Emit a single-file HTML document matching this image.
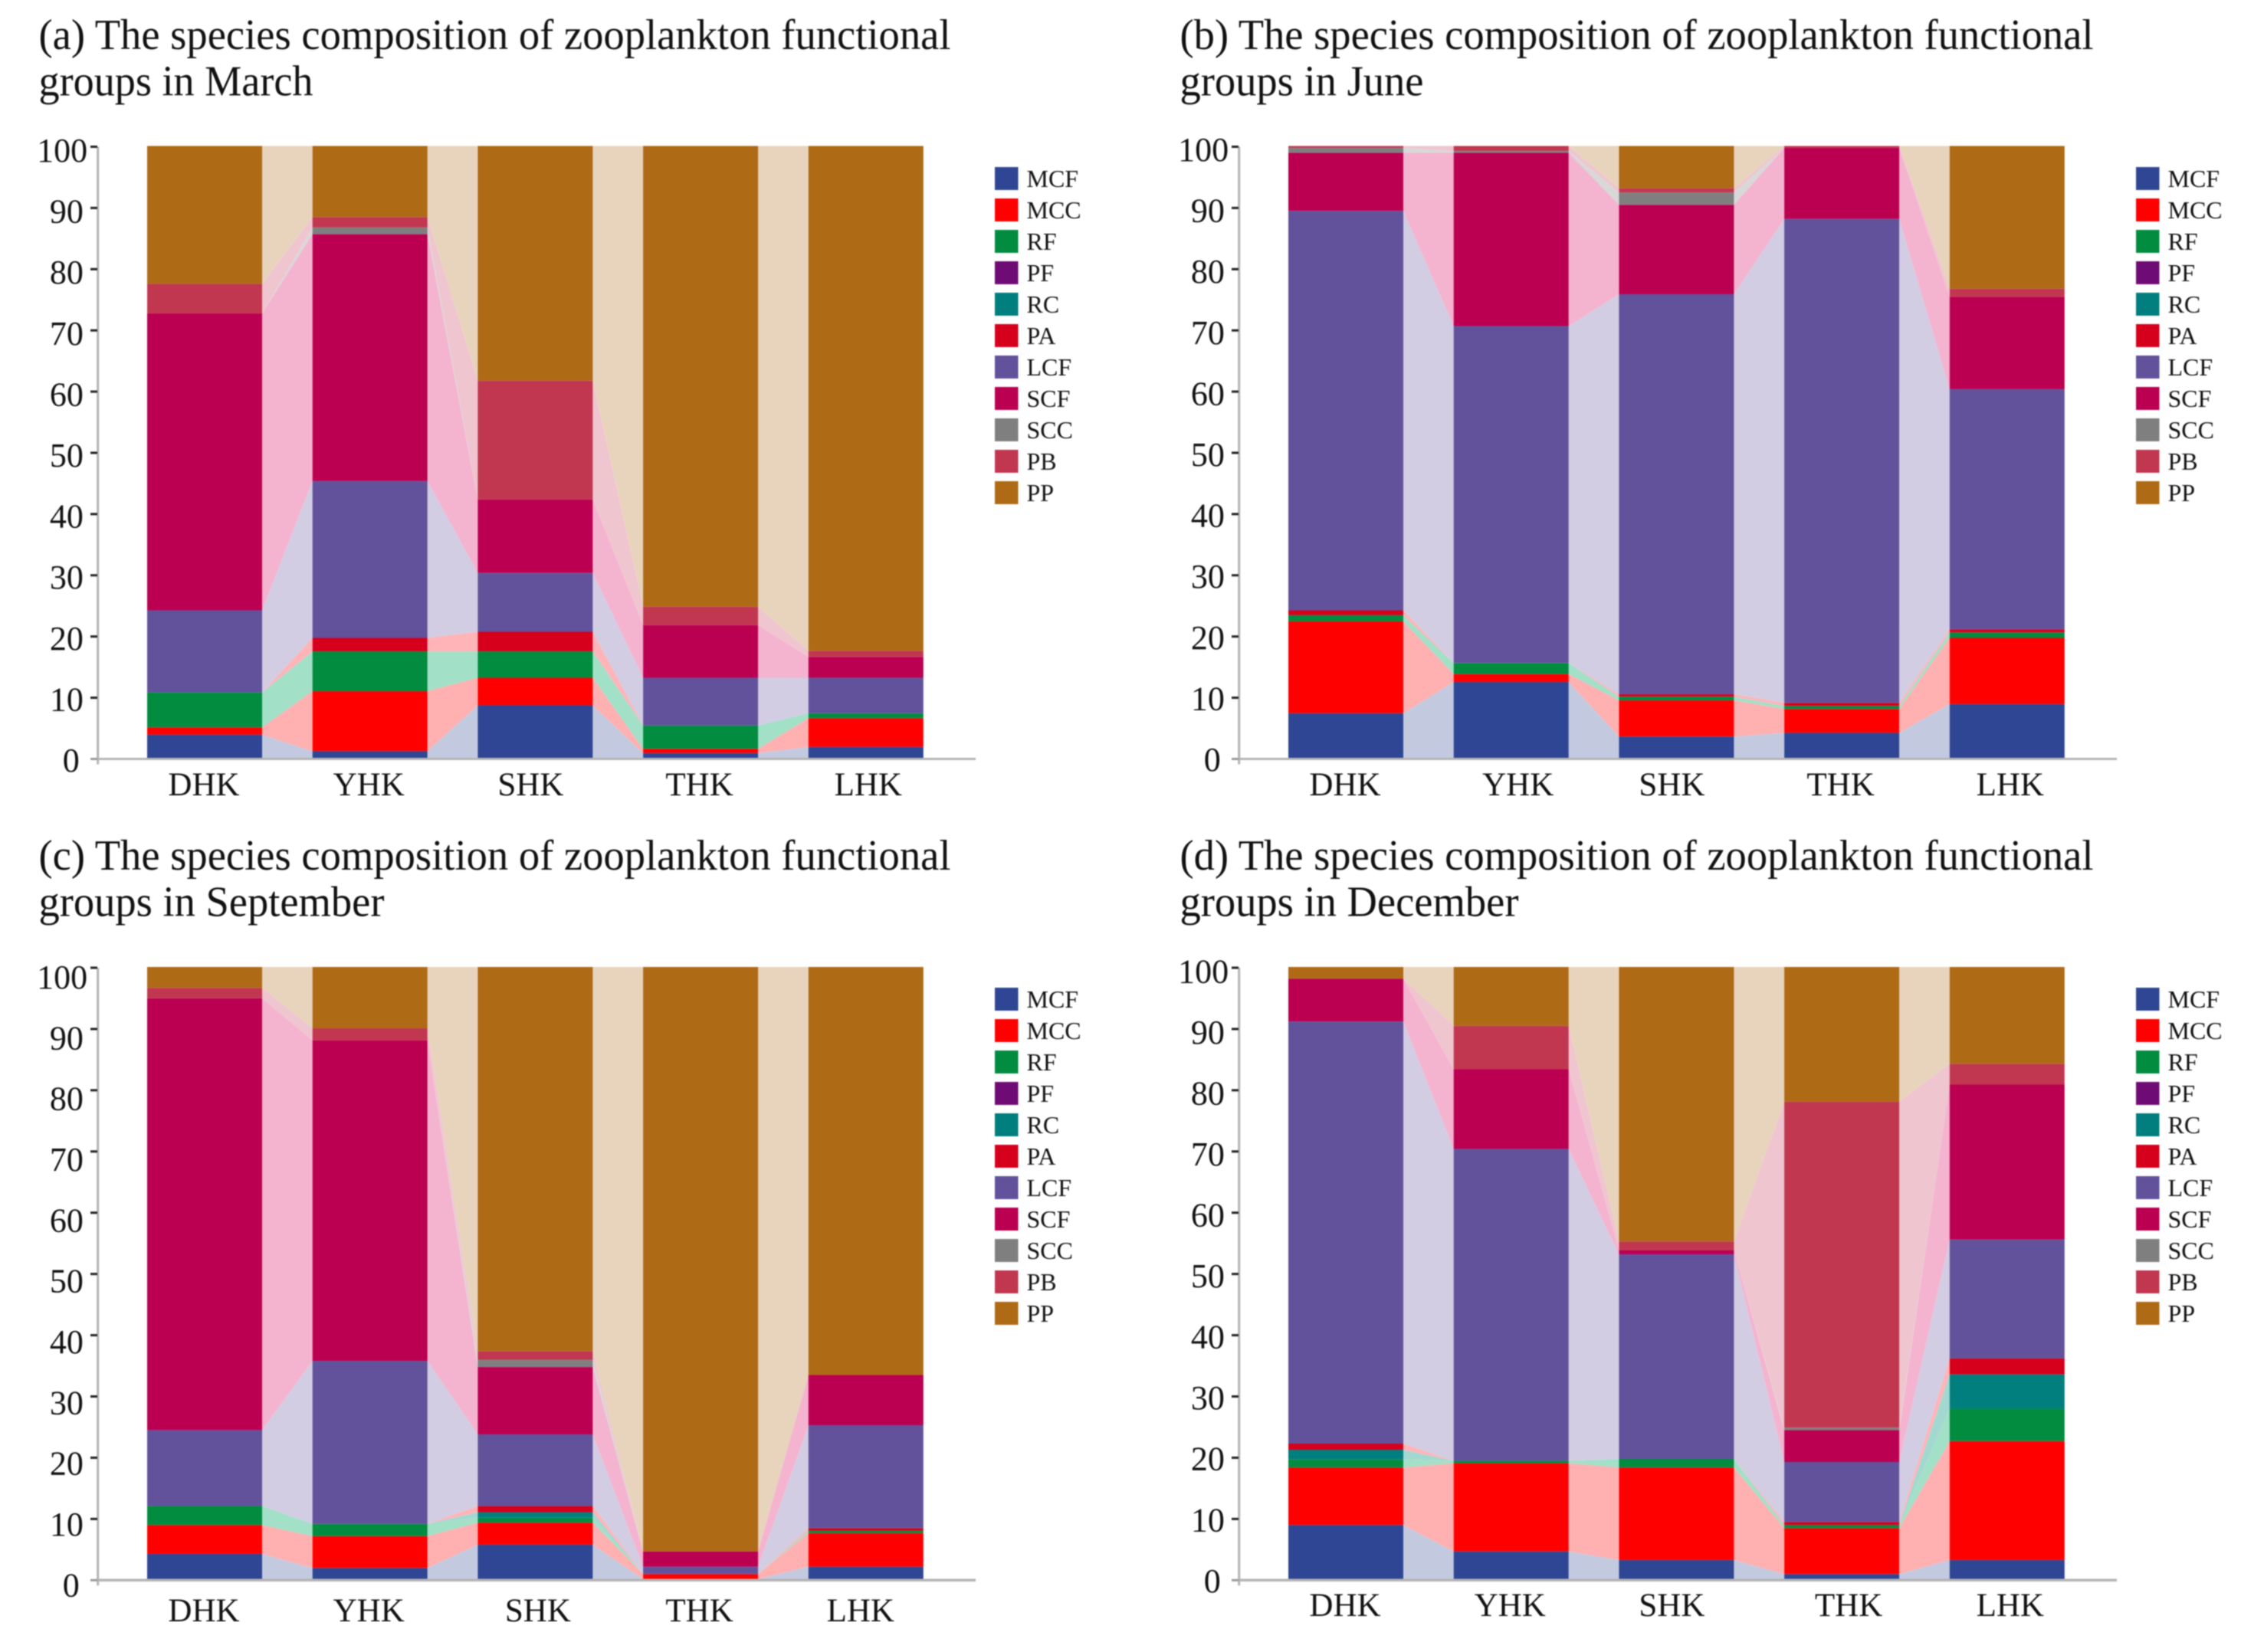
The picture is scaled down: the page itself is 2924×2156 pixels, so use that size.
<!DOCTYPE html>
<html lang="en">
<head>
<meta charset="utf-8">
<title>Species composition of zooplankton functional groups</title>
<style>
  html, body { margin: 0; padding: 0; background: #fff; width: 2924px; height: 2156px; overflow: hidden; }
  svg { display: block; filter: blur(0.8px); font-family: "Liberation Serif", serif; fill: #111; }
  .title { font-size: 56px; }
</style>
</head>
<body>
<svg id="figure" xmlns="http://www.w3.org/2000/svg" width="2924" height="2156" viewBox="0 0 2924 2156">
  <rect width="2924" height="2156" fill="#fff"/>
  <g id="panel-a">
    <text class="title" x="50.5" y="64" textLength="1190" lengthAdjust="spacingAndGlyphs">(a) The species composition of zooplankton functional</text>
    <text class="title" x="50.5" y="124.5" textLength="358" lengthAdjust="spacingAndGlyphs">groups in March</text>
  </g>
  <g id="panel-b">
    <text class="title" x="1539.5" y="64" textLength="1192" lengthAdjust="spacingAndGlyphs">(b) The species composition of zooplankton functional</text>
    <text class="title" x="1539.5" y="124.5" textLength="318" lengthAdjust="spacingAndGlyphs">groups in June</text>
  </g>
  <g id="panel-c">
    <text class="title" x="50.5" y="1135" textLength="1190" lengthAdjust="spacingAndGlyphs">(c) The species composition of zooplankton functional</text>
    <text class="title" x="50.5" y="1195.5" textLength="451" lengthAdjust="spacingAndGlyphs">groups in September</text>
  </g>
  <g id="panel-d">
    <text class="title" x="1539.5" y="1135" textLength="1192" lengthAdjust="spacingAndGlyphs">(d) The species composition of zooplankton functional</text>
    <text class="title" x="1539.5" y="1195.5" textLength="442" lengthAdjust="spacingAndGlyphs">groups in December</text>
  </g>
</svg>
<script>
// Shared categories, legend groups and tick labels
const sites = ['DHK', 'YHK', 'SHK', 'THK', 'LHK'];
const groups = ['MCF', 'MCC', 'RF', 'PF', 'RC', 'PA', 'LCF', 'SCF', 'SCC', 'PB', 'PP'];
const yTicks = [0, 10, 20, 30, 40, 50, 60, 70, 80, 90, 100];

// Percent of each group per site; order follows `groups`
const marchDHK = [3.9, 1.2, 5.7, 0, 0, 0, 13.4, 48.5, 0, 4.8, 22.5];
const marchYHK = [1.2, 9.8, 6.5, 0, 0, 2.2, 25.6, 40.3, 1.1, 1.7, 11.6];
const marchSHK = [8.7, 4.5, 4.3, 0, 0, 3.2, 9.6, 12, 0, 19.4, 38.3];
const marchTHK = [0.9, 0.7, 3.8, 0, 0, 0, 7.8, 8.6, 0, 3, 75.2];
const marchLHK = [1.9, 4.7, 0.8, 0, 0, 0, 5.8, 3.4, 0, 1, 82.4];

const juneDHK = [7.4, 15, 1, 0, 0, 0.8, 65.2, 9.5, 0.8, 0.3, 0];
const juneYHK = [12.5, 1.3, 1.8, 0, 0, 0, 55, 28.3, 0.3, 0.8, 0];
const juneSHK = [3.6, 5.9, 0.6, 0, 0, 0.4, 65.3, 14.6, 2, 0.7, 6.9];
const juneTHK = [4.2, 3.9, 0.5, 0, 0, 0.5, 79, 11.6, 0, 0.3, 0];
const juneLHK = [8.9, 10.8, 0.9, 0, 0, 0.5, 39.2, 15.1, 0, 1.3, 23.3];

const septemberDHK = [4.2, 4.7, 3.1, 0, 0, 0, 12.4, 70.5, 0, 1.7, 3.4];
const septemberYHK = [1.9, 5.2, 2, 0, 0, 0, 26.6, 52.3, 0, 2, 10];
const septemberSHK = [5.7, 3.6, 0.8, 0, 0.9, 1, 11.7, 11, 1.2, 1.4, 62.7];
const septemberTHK = [0.1, 0.8, 0, 0, 0, 0, 1.2, 2.5, 0, 0, 95.4];
const septemberLHK = [2.1, 5.5, 0.4, 0, 0, 0.4, 16.8, 8.2, 0, 0, 66.6];

const decemberDHK = [8.9, 9.4, 1.3, 0, 1.6, 1, 68.9, 7, 0, 0, 1.9];
const decemberYHK = [4.6, 14.4, 0.4, 0, 0, 0, 50.9, 13, 0, 7.1, 9.6];
const decemberSHK = [3.2, 15.1, 1.4, 0, 0, 0, 33.4, 0.7, 0, 1.4, 44.8];
const decemberTHK = [0.9, 7.5, 0.5, 0, 0, 0.5, 9.8, 5.2, 0.4, 53.2, 22];
const decemberLHK = [3.2, 19.4, 5.3, 0, 5.6, 2.6, 19.4, 25.3, 0, 3.4, 15.8];

const barColors = {
  MCF: '#2f4694', MCC: '#ff0000', RF: '#028c40', PF: '#6f0b75', RC: '#007f7e', PA: '#d6001c',
  LCF: '#62529b', SCF: '#bb0052', SCC: '#7f7f7f', PB: '#c23750', PP: '#ae6a15'
};
const ribbonColors = {
  MCF: '#c3cae0', MCC: '#ffb0b0', RF: '#a3e0c8', PF: '#d8bcd8', RC: '#a3d8d0', PA: '#ffb4b8',
  LCF: '#d2cde3', SCF: '#f4b4cf', SCC: '#d8d8d8', PB: '#efc5cf', PP: '#e8d4bd'
};

const SVG_NS = 'http://www.w3.org/2000/svg';

function make(parent, tag, attrs) {
  const el = document.createElementNS(SVG_NS, tag);
  for (const key in attrs) el.setAttribute(key, attrs[key]);
  parent.appendChild(el);
  return el;
}

function drawPanel(cfg) {
  const root = document.getElementById('panel-' + cfg.id);
  const x0 = cfg.dx;
  const yScale = function (v) { return cfg.y0 - v * 7.995; };
  const barW = 150;
  const barLeft = function (i) { return x0 + 192 + i * 215.7; };

  // running stack boundaries per site
  const stacks = cfg.rows.map(function (row) {
    let sum = 0;
    return row.map(function (v) {
      const seg = { lo: sum, hi: sum + v };
      sum += v;
      return seg;
    });
  });

  // connecting ribbons between neighbouring bars
  for (let i = 0; i < sites.length - 1; i++) {
    groups.forEach(function (g, k) {
      const a = stacks[i][k];
      const b = stacks[i + 1][k];
      if (a.hi - a.lo <= 0 && b.hi - b.lo <= 0) return;
      const xa = barLeft(i) + barW;
      const xb = barLeft(i + 1);
      const pts = [
        [xa, yScale(a.lo)], [xa, yScale(a.hi)],
        [xb, yScale(b.hi)], [xb, yScale(b.lo)]
      ].map(function (p) { return p[0].toFixed(2) + ',' + p[1].toFixed(2); }).join(' ');
      const el = make(root, 'polygon', { points: pts, fill: ribbonColors[g] });
      
      
    });
  }

  // stacked bars
  sites.forEach(function (site, i) {
    groups.forEach(function (g, k) {
      const s = stacks[i][k];
      if (s.hi - s.lo <= 0) return;
      const el = make(root, 'rect', {
        x: barLeft(i), y: yScale(s.hi).toFixed(2), width: barW,
        height: (yScale(s.lo) - yScale(s.hi)).toFixed(2), fill: barColors[g]
      });
      
      
    });
  });

  // axes
  const yAxis = make(root, 'line', {
    x1: x0 + 127.7, x2: x0 + 127.7, y1: yScale(100) + 1, y2: cfg.axisY + 7,
    stroke: '#b4b4b4', 'stroke-width': 3
  });
  
  

  const xAxis = make(root, 'line', {
    x1: x0 + 127, x2: x0 + 1273, y1: cfg.axisY, y2: cfg.axisY,
    stroke: '#b4b4b4', 'stroke-width': cfg.axisW
  });
  
  

  // y ticks and labels
  yTicks.forEach(function (t) {
    const ty = cfg.axisY - t * (cfg.axisY - yScale(100) - 1) / 100;
    const tick = make(root, 'line', {
      x1: x0 + 118, x2: x0 + 127, y1: ty, y2: ty,
      stroke: t === 0 ? '#999' : '#222', 'stroke-width': 3
    });
    
    

    const str = String(t);
    const label = make(root, 'text', {
      x: x0 + 98.5 + 5.2 * str.length,
      y: (ty + cfg.tickBase + t * cfg.tickSlope).toFixed(1),
      'text-anchor': 'end', 'font-size': 44
    });
    label.textContent = str;
    
    
  });

  // category labels
  sites.forEach(function (site, i) {
    const label = make(root, 'text', {
      x: barLeft(i) + barW / 2 + cfg.labelNudge[i], y: cfg.labelY,
      'text-anchor': 'middle', 'font-size': 43
    });
    label.textContent = site;
    
    
  });

  // legend
  groups.forEach(function (g, k) {
    const ly = cfg.legendY + k * 41;
    const swatch = make(root, 'rect', {
      x: x0 + 1298, y: ly, width: 30.5, height: 30, fill: barColors[g]
    });
    
    

    const text = make(root, 'text', {
      x: x0 + 1339.5, y: ly + 26, 'font-size': 32
    });
    text.textContent = g;
    
    
  });
}

drawPanel({
  id: 'a', dx: 0, y0: 990, axisY: 990.5, axisW: 3, labelY: 1038, legendY: 218,
  tickBase: 16.5, tickSlope: 0.03, labelNudge: [-1, -1.5, -6, -1.5, 3],
  rows: [marchDHK, marchYHK, marchSHK, marchTHK, marchLHK]
});
drawPanel({
  id: 'b', dx: 1489, y0: 990, axisY: 990.5, axisW: 3, labelY: 1038, legendY: 218,
  tickBase: 15.5, tickSlope: 0.03, labelNudge: [-1, 9, -6, -1.5, 4],
  rows: [juneDHK, juneYHK, juneSHK, juneTHK, juneLHK]
});
drawPanel({
  id: 'c', dx: 0, y0: 2061.5, axisY: 2062.3, axisW: 3.5, labelY: 2116, legendY: 1289,
  tickBase: 21, tickSlope: 0.06, labelNudge: [-1, -1.5, 3.5, -1.5, -7],
  rows: [septemberDHK, septemberYHK, septemberSHK, septemberTHK, septemberLHK]
});
drawPanel({
  id: 'd', dx: 1489, y0: 2061.5, axisY: 2062.3, axisW: 3.5, labelY: 2109, legendY: 1289,
  tickBase: 15.5, tickSlope: 0.04, labelNudge: [-1, -1.5, -6, 9, 4],
  rows: [decemberDHK, decemberYHK, decemberSHK, decemberTHK, decemberLHK]
});
</script>
</body>
</html>
